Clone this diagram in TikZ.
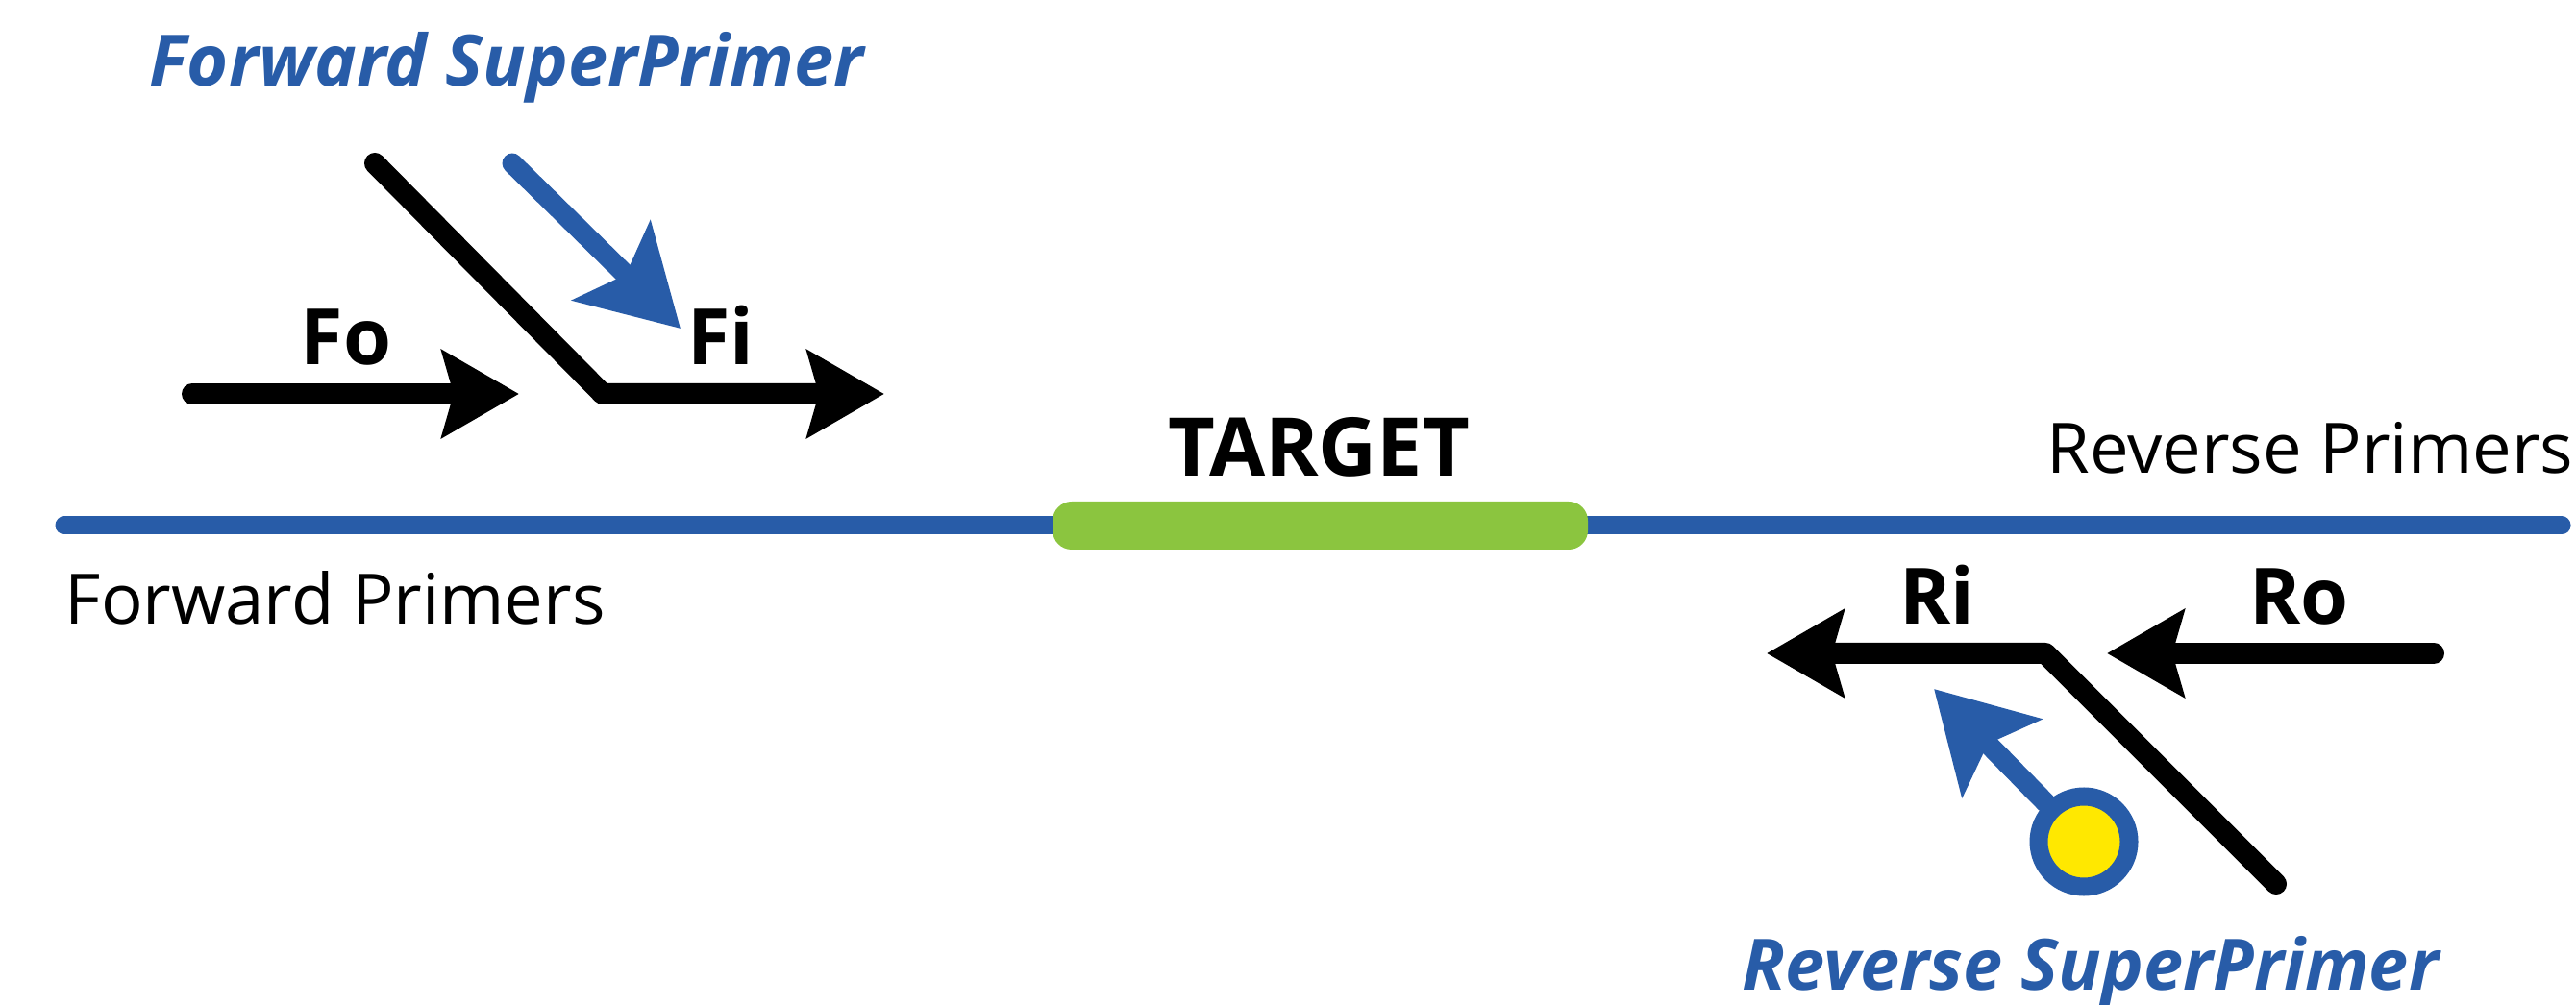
\documentclass[tikz,border=0pt]{standalone}
\usepackage{fontspec}
\setmainfont{Open Sans}
\usetikzlibrary{arrows.meta}
\definecolor{dnablue}{RGB}{40,92,168}
\definecolor{targetgreen}{RGB}{139,197,63}
\definecolor{probeyellow}{RGB}{255,232,0}

\tikzset{
  primer/.style={black, line width=2.2mm, line cap=round, line join=round, -{Stealth[length=8mm,width=9mm,inset=1.2mm]}},
  superarrow/.style={dnablue, line width=2.1mm, line cap=round, -{Stealth[length=10mm,width=11.4mm,inset=2mm]}},
  plabel/.style={font=\fontsize{23}{27}\selectfont\bfseries, inner sep=0pt, anchor=base},
  strandlabel/.style={font=\fontsize{20.6}{25}\selectfont, inner sep=0pt},
  superlabel/.style={font=\fontsize{21}{25}\selectfont\bfseries\itshape, text=dnablue, inner sep=0pt, anchor=base}
}

\begin{document}
\begin{tikzpicture}
\useasboundingbox (0,0) rectangle (26.8,10.45);
% template strand and target
\draw[dnablue, line width=1.9mm, line cap=round] (0.67,4.98) -- (26.65,4.98);
\fill[targetgreen, rounded corners=2mm] (10.95,4.73) rectangle (16.52,5.23);
\node[plabel, font=\fontsize{24}{28}\selectfont\bfseries] (target) at (13.72,5.49) {TARGET};
\node[strandlabel, anchor=base west] (fwdlab) at (0.67,3.95) {Forward Primers};
\node[strandlabel, anchor=base east] (revlab) at (26.78,5.52) {Reverse Primers};

% forward primers
\coordinate (fo-start) at (2.00,6.35);
\coordinate (fo-end) at (5.40,6.35);
\coordinate (fi-tail) at (3.90,8.75);
\coordinate (fi-bend) at (6.27,6.35);
\coordinate (fi-end) at (9.20,6.35);
\draw[primer] (fo-start) -- (fo-end);
\draw[primer] (fi-tail) -- (fi-bend) -- (fi-end);
\coordinate (fsp-start) at (5.33,8.75);
\coordinate (fsp-end) at (7.08,7.03);
\draw[superarrow] (fsp-start) -- (fsp-end);
\node[plabel] (fo) at (3.60,6.65) {Fo};
\node[plabel] (fi) at (7.50,6.65) {Fi};
\node[superlabel] (fsp) at (5.27,9.55) {Forward SuperPrimer};

% reverse primers
\coordinate (ro-start) at (25.32,3.65);
\coordinate (ro-end) at (21.92,3.65);
\coordinate (ri-tail) at (23.68,1.25);
\coordinate (ri-bend) at (21.28,3.65);
\coordinate (ri-end) at (18.38,3.65);
\draw[primer] (ro-start) -- (ro-end);
\draw[primer] (ri-tail) -- (ri-bend) -- (ri-end);
\node[circle, draw=dnablue, fill=probeyellow, line width=1.9mm, minimum size=9.4mm, inner sep=0pt] (probe) at (21.68,1.69) {};
\coordinate (rsp-end) at (20.12,3.28);
\draw[superarrow] (probe) -- (rsp-end);
\node[plabel] (ri) at (20.15,3.95) {Ri};
\node[plabel] (ro) at (23.92,3.95) {Ro};
\node[superlabel] (rsp) at (21.75,0.15) {Reverse SuperPrimer};
\end{tikzpicture}
\end{document}
